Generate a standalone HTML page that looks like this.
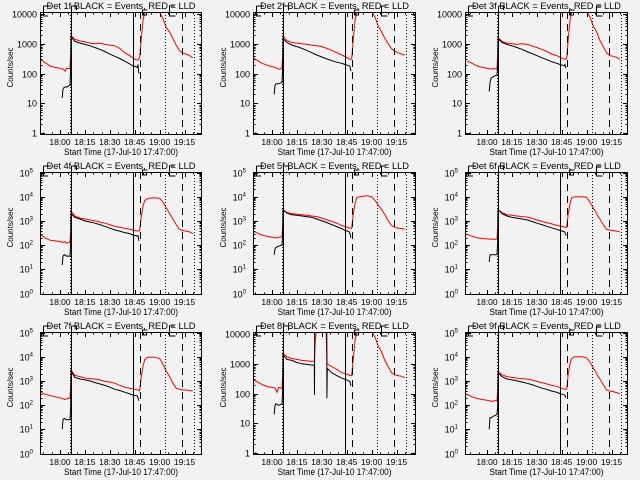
<!DOCTYPE html>
<html><head><meta charset="utf-8"><style>
html,body{margin:0;padding:0;background:#f2f2f2}
svg{display:block}
text{font-family:"Liberation Sans",sans-serif;fill:#000}
</style></head><body>
<svg id="chart" width="640" height="480" viewBox="0 0 640 480" xmlns="http://www.w3.org/2000/svg">
<rect x="0" y="0" width="640" height="480" fill="#f2f2f2"/>
</svg>
<script>
// ---- data (time in minutes since 17:47:00) ----
const redTimes = [1,4,7,10,13,15,16,17,19,19.5,19.7,22,25,28,31,34,37,40,43,46,49,52,55,58,60,61,62,63,64,66,70,73,75,77,79,81,83,85,87,89,91,93];
const blackTimes = [14.3,14.8,15.5,17,19,19.5,19.7,22,25,28,31,34,37,40,43,46,49,52,55,57,58.5,59.5,60,60.5];
const red1 = [300,230,180,160,150,140,120,150,145,500,1900,1400,1250,1150,1050,1000,1050,950,900,850,700,500,400,300,280,350,1500,6000,11500,11500,11500,11500,7000,3500,2500,1500,900,600,480,450,400,340];
const black1 = [15,30,35,35,40,200,1700,1200,1050,950,850,750,650,550,450,380,320,260,210,180,170,160,200,100];
const red2 = [350,280,220,190,170,160,150,140,150,500,1800,1300,1100,1050,1000,950,900,850,800,700,600,500,420,350,300,300,1500,6000,12000,12000,12000,12000,8000,4000,2500,1500,1000,700,550,500,450,420];
const black2 = [20,40,45,45,50,200,1500,1100,900,800,700,600,500,420,360,310,270,240,220,200,190,180,170,120];
const red3 = [260,220,180,160,150,145,140,150,140,500,1600,1200,1050,1000,950,1000,950,850,750,650,550,450,400,330,300,320,1500,6000,12000,12000,12000,12000,8000,4000,2500,1300,800,500,400,380,350,300];
const black3 = [25,50,70,80,90,200,1500,1100,950,850,750,650,550,470,400,340,290,250,220,200,190,180,200,150];
const red4 = [280,200,160,150,140,130,140,120,130,500,2500,1600,1300,1200,1100,1000,900,800,700,600,550,500,450,400,380,400,1500,4000,7000,8500,9000,8500,6000,3500,2000,1200,700,450,400,380,350,300];
const black4 = [15,35,40,35,35,150,2000,1400,1200,1000,900,800,700,600,500,420,380,330,300,260,250,230,250,150];
const red5 = [400,320,260,230,210,200,200,210,220,800,3000,2200,2000,1900,1800,1700,1600,1500,1300,1100,950,800,650,550,500,500,2000,5000,9000,10000,11000,10000,7000,4500,3000,1800,1000,650,550,500,480,450];
const black5 = [40,70,80,90,100,300,2800,2100,1800,1700,1600,1500,1400,1200,1000,850,700,580,480,400,380,350,300,200];
const red6 = [280,230,200,190,180,175,180,170,180,600,3000,2200,1800,1700,1600,1500,1450,1300,1100,950,850,750,650,600,550,550,2000,5000,9000,10000,10000,9500,6000,3500,2000,1200,700,450,420,400,380,350];
const black6 = [20,40,40,40,40,150,3000,2000,1600,1400,1300,1200,1100,950,800,700,600,520,450,400,380,360,330,250];
const red7 = [350,280,250,220,200,180,170,180,200,600,2800,1700,1500,1300,1250,1200,1100,950,900,800,650,550,500,450,420,400,1500,4000,7500,9500,9500,8500,5000,2500,1500,800,500,450,420,420,400,380];
const black7 = [10,25,28,25,25,100,2500,1400,1200,1100,1000,850,750,650,550,450,400,340,290,260,250,240,200,150];
const redTimes8 = [1,4,7,10,13,15,16,17,19,19.5,19.7,22,25,28,31,34,37,38.5,39,39.6,42,45,45.6,46.2,49,52,55,58,60,61,62,63,64,66,70,73,75,77,79,81,83,85,87,89,91,93];
const red8 = [300,250,200,170,160,150,110,160,150,500,2200,1700,1500,1400,1300,1250,1200,1200,5000,12000,12000,12000,12000,1000,800,650,500,450,400,400,1500,6000,12000,12000,12000,12000,8000,4000,2500,1300,800,500,420,400,380,340];
const blackTimes8 = [14.3,14.8,15.5,17,19,19.5,19.7,22,25,28,31,34,37,38.5,38.6,38.7,46.0,46.1,46.3,49,52,55,57,58.5,59.5,60,60.5];
const black8 = [20,40,45,40,45,150,2000,1400,1300,1100,1000,950,900,900,90,12000,12000,70,700,500,400,330,300,280,260,250,180];
const red9 = [280,220,190,170,160,150,140,150,150,500,2500,1800,1500,1400,1300,1250,1200,1100,950,850,750,650,600,500,450,450,2000,5000,8500,10000,10000,9000,6000,3500,2000,1200,700,420,380,360,330,300];
const black9 = [10,30,30,35,40,100,2200,1500,1200,1100,1000,900,800,700,600,500,450,380,340,300,280,270,250,200];
const xTickTimes = [13,28,43,58,73,88];
const xTickLabels = ["18:00","18:15","18:30","18:45","19:00","19:15"];
const eventSolid = [19.6,57];
const eventDashed = [61.2,86.5];
const eventDotted = [19.6,76.9,94.3];
const panelDets = ["1f","2f","3f","4f","5f","6f","7f","8f","9f"];

const panels = [
 {rt:redTimes,r:red1,bt:blackTimes,b:black1,style:'plain'},
 {rt:redTimes,r:red2,bt:blackTimes,b:black2,style:'plain'},
 {rt:redTimes,r:red3,bt:blackTimes,b:black3,style:'plain'},
 {rt:redTimes,r:red4,bt:blackTimes,b:black4,style:'exp'},
 {rt:redTimes,r:red5,bt:blackTimes,b:black5,style:'exp'},
 {rt:redTimes,r:red6,bt:blackTimes,b:black6,style:'exp'},
 {rt:redTimes,r:red7,bt:blackTimes,b:black7,style:'exp'},
 {rt:redTimes8,r:red8,bt:blackTimes8,b:black8,style:'plain'},
 {rt:redTimes,r:red9,bt:blackTimes,b:black9,style:'exp'}
];
const colLeft=[40,253,465], colWidth=[162,163,163], colShift=[0,-1,2];
const rowTop=[12,172,332];
const NS="http://www.w3.org/2000/svg";
const svg=document.getElementById('chart');
function mk(tag,attrs,parent){const e=document.createElementNS(NS,tag);for(const k in attrs)e.setAttribute(k,attrs[k]);(parent||svg).appendChild(e);return e;}

panels.forEach((p,i)=>{
  const col=i%3,row=Math.floor(i/3);
  const L=colLeft[col],W=colWidth[col],T=rowTop[row],H=123,B=T+H;
  const plain=p.style==='plain';
  const perDec=plain?29.75:24.2;
  const baseY=plain?B-2:B-1.5;
  const xs=t=>L+colShift[col]+20+(t-13)*1.66;
  const ys=v=>baseY-Math.log10(v)*perDec;
  const g=mk('g',{});
  
  
  const cid='clip'+i;
  const cp=mk('clipPath',{id:cid},g);mk('rect',{x:L,y:T,width:W,height:H},cp);
  // series
  const rp=p.rt.map((t,k)=>xs(t).toFixed(1)+','+ys(p.r[k]).toFixed(1)).join(' ');
  const rl=mk('polyline',{points:rp,fill:'none',stroke:'#ff0000','stroke-width':1,'clip-path':'url(#'+cid+')'},g);
  
  
  const bp=p.bt.map((t,k)=>xs(t).toFixed(1)+','+ys(p.b[k]).toFixed(1)).join(' ');
  const bl=mk('polyline',{points:bp,fill:'none',stroke:'#000','stroke-width':1,'clip-path':'url(#'+cid+')'},g);
  
  
  // event lines
  eventSolid.forEach((t,k)=>{const x=Math.round(xs(t))+.5;const l=mk('line',{x1:x,x2:x,y1:k==0?T-6:T,y2:B,stroke:'#000','stroke-width':1},g);
    
    });
  eventDashed.forEach(t=>{const x=Math.round(xs(t))+.5;const l=mk('line',{x1:x,x2:x,y1:T,y2:B,stroke:'#000','stroke-width':1,'stroke-dasharray':'7,5'},g);
    
    });
  eventDotted.forEach(t=>{const x=Math.round(xs(t))-.5;const l=mk('line',{x1:x,x2:x,y1:T,y2:B,stroke:'#000','stroke-width':1,'stroke-dasharray':'1,2'},g);
    
    });
  // bracket annotations
  const a0=L+3, a3=Math.round(xs(eventSolid[0]))+.5, a1=Math.round(xs(61.8))+.5, a2=Math.round(xs(78.5))+.5;
  mk('path',{d:`M${a0+.5},${T-6}H${a0+8}M${a0+.5},${T-6}V${T+4}H${a0+5}`,fill:'none',stroke:'#000'},g);
  mk('path',{d:`M${a3},${T-6}H${a3+5}V${T-2}`,fill:'none',stroke:'#000'},g);
  mk('path',{d:`M${a1+6},${T-2}H${a1+1}V${T+3}H${a1+5}V${T}`,fill:'none',stroke:'#000'},g);
  mk('path',{d:`M${a2+5},${T-6}H${a2}V${T+4}H${a2+6}`,fill:'none',stroke:'#000'},g);
  // frame
  const fr=mk('rect',{x:L+.5,y:T+.5,width:W-1,height:H-1,fill:'none',stroke:'#000','stroke-width':1},g);
  
  
  // y ticks
  const maxDec=plain?4:5;
  for(let d=0;d<=maxDec;d++){
    const y=Math.round(ys(Math.pow(10,d)))+.5;
    mk('line',{x1:L,x2:L+5,y1:y,y2:y,stroke:'#000'},g);
    mk('line',{x1:L+W-5,x2:L+W,y1:y,y2:y,stroke:'#000'},g);
    const tx=mk('text',{x:L-3,y:y+3,'text-anchor':'end','font-size':'9'},g);
    
    
    if(plain){tx.textContent=String(Math.pow(10,d));}
    else{tx.setAttribute('x',L-7);tx.textContent='10';const s=mk('tspan',{'font-size':'6',dy:'-4'},tx);s.textContent=String(d);}
    if(d<maxDec||!plain){for(let m=2;m<=9;m++){const v=m*Math.pow(10,d);const yy=Math.round(ys(v))+.5;if(yy<T)continue;
      mk('line',{x1:L,x2:L+2.5,y1:yy,y2:yy,stroke:'#000'},g);mk('line',{x1:L+W-2.5,x2:L+W,y1:yy,y2:yy,stroke:'#000'},g);}}
  }
  // x ticks
  for(let t=3;t<=98;t+=5){const x=Math.round(xs(t))+.5;if(x<L||x>L+W)continue;
    const major=xTickTimes.includes(t);const len=major?5:2.5;
    mk('line',{x1:x,x2:x,y1:B,y2:B-len,stroke:'#000'},g);mk('line',{x1:x,x2:x,y1:T,y2:T+len,stroke:'#000'},g);}
  xTickTimes.forEach((t,k)=>{const tx=mk('text',{x:xs(t),y:B+10,'text-anchor':'middle','font-size':'8.5'},g);
    
    
    tx.textContent=xTickLabels[k];});
  // titles
  const tt=mk('text',{x:L+W/2,y:T-3,'text-anchor':'middle','font-size':'9.5',textLength:149,lengthAdjust:'spacingAndGlyphs'},g);
  
  
  tt.textContent='Det '+panelDets[i]+' BLACK = Events, RED = LLD';
  const xl=mk('text',{x:L+W/2,y:B+20,'text-anchor':'middle','font-size':'9',textLength:114,lengthAdjust:'spacingAndGlyphs'},g);
  
  
  xl.textContent='Start Time (17-Jul-10 17:47:00)';
  const yl=mk('text',{x:0,y:0,'text-anchor':'middle','font-size':'8',transform:`translate(${L-27},${T+H/2-6}) rotate(-90)`},g);
  
  
  yl.textContent='Counts/sec';
});
</script>
</body></html>
